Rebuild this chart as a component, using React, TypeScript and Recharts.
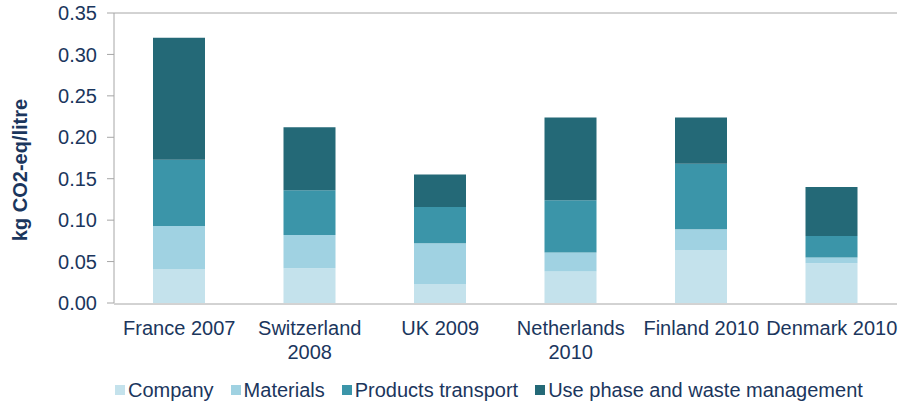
import { BarChart, Bar, XAxis, YAxis, ReferenceLine, Label } from 'recharts';

const CATEGORIES = ['France 2007', 'Switzerland 2008', 'UK 2009', 'Netherlands 2010', 'Finland 2010', 'Denmark 2010'];
const COMPANY = [0.041, 0.042, 0.023, 0.038, 0.064, 0.048];
const MATERIALS = [0.052, 0.040, 0.049, 0.023, 0.025, 0.007];
const TRANSPORT = [0.080, 0.054, 0.044, 0.063, 0.079, 0.026];
const USE_PHASE = [0.147, 0.076, 0.039, 0.100, 0.056, 0.059];
const Y_TICKS = [0, 0.05, 0.1, 0.15, 0.2, 0.25, 0.3, 0.35];

const SERIES = [
    { key: 'company', name: 'Company', color: '#c4e2ec' },
    { key: 'materials', name: 'Materials', color: '#a0d2e2' },
    { key: 'transport', name: 'Products transport', color: '#3b95a9' },
    { key: 'use', name: 'Use phase and waste management', color: '#246977' },
];

const TEXT = '#1b365d';
const AXIS = '#a6a6a6';
const FONT = '"Liberation Sans", Arial, Helvetica, sans-serif';

const data = CATEGORIES.map((name, i) => ({
    name,
    company: COMPANY[i],
    materials: MATERIALS[i],
    transport: TRANSPORT[i],
    use: USE_PHASE[i],
}));

// long names go on two lines, like the original
function CategoryTick({ x, y, payload }: any) {
    const text: string = payload.value;
    const cut = text.lastIndexOf(' ');
    const lines = text.length > 13 ? [text.slice(0, cut), text.slice(cut + 1)] : [text];
    return (
        <text x={x} y={y} textAnchor="middle" fill={TEXT} fontSize={20} fontFamily={FONT}>
            {lines.map((l, i) => (
                <tspan key={i} x={x} dy={i === 0 ? 24 : 24}>{l}</tspan>
            ))}
        </text>
    );
}

function YTitle() {
    return (
        <text x={27} y={170} transform="rotate(-90 27 170)" textAnchor="middle" fill={TEXT}
            fontSize={20} fontWeight="bold" fontFamily={FONT}>
            kg CO2-eq/litre
        </text>
    );
}

export default function App() {
    return (
        <div style={{ position: 'absolute', left: 0, top: 0, width: 899, height: 401, background: '#fff', fontFamily: FONT }}>
            <BarChart width={899} height={401} data={data} margin={{ top: 13, right: 2, left: 0, bottom: 96 }}>
                <XAxis xAxisId="e" type="number" domain={[0, 6]} ticks={[0, 1, 2, 3, 4, 5, 6]} tick={false}
                    tickSize={6} stroke={AXIS} height={1} allowDataOverflow />
                <XAxis xAxisId="c" dataKey="name" axisLine={false} tickLine={false} tick={<CategoryTick />}
                    height={1} interval={0} />
                <YAxis domain={[0, 0.35]} ticks={Y_TICKS} tickFormatter={(v: number) => v.toFixed(2)} width={114}
                    tickSize={7} tickMargin={10} stroke={AXIS} tick={{ fill: TEXT, fontSize: 20, fontFamily: FONT }}
                    allowDataOverflow>
                    <Label content={<YTitle />} />
                </YAxis>
                <ReferenceLine xAxisId="e" y={0.35} stroke={AXIS} />
                <ReferenceLine xAxisId="e" x={6} stroke={AXIS} />
                {SERIES.map(s => (
                    <Bar key={s.key} xAxisId="c" dataKey={s.key} name={s.name} stackId="a" fill={s.color}
                        barSize={52} isAnimationActive={false} />
                ))}
            </BarChart>
            <div style={{ position: 'absolute', left: 115, top: 378, display: 'flex', alignItems: 'center', color: TEXT, fontSize: 20, lineHeight: '24px' }}>
                {SERIES.map(s => (
                    <div key={s.key} style={{ display: 'flex', alignItems: 'center', marginRight: 17 }}>
                        <span style={{ width: 10, height: 10, background: s.color, marginRight: 3, display: 'inline-block' }} />
                        <span>{s.name}</span>
                    </div>
                ))}
            </div>
        </div>
    );
}
